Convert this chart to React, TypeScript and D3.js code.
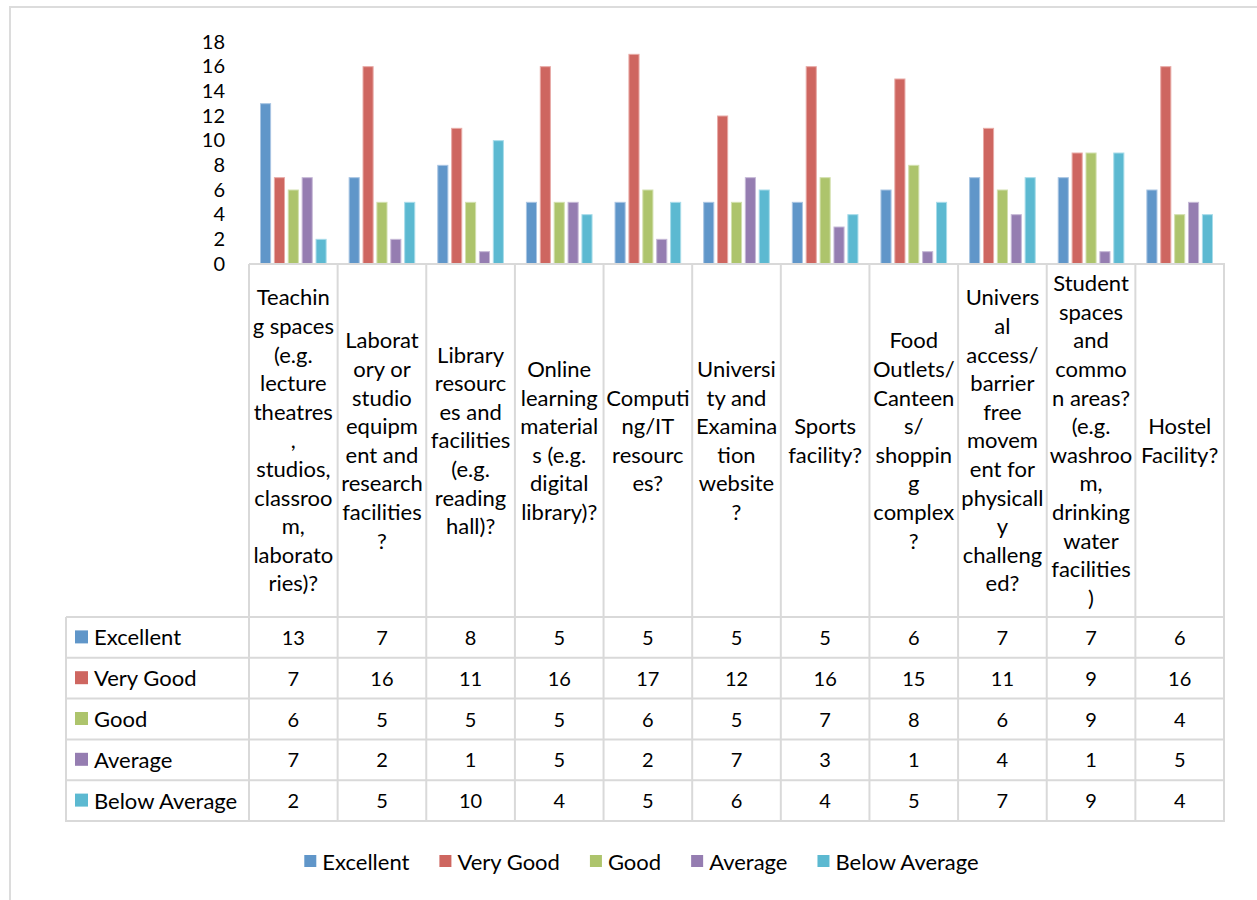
import React, { useEffect, useRef } from "react";
import * as d3 from "d3";

const categories: string[][] = [
  ["Teachin", "g spaces", "(e.g.", "lecture", "theatres", ",", "studios,", "classroo", "m,", "laborato", "ries)?"],
  ["Laborat", "ory or", "studio", "equipm", "ent and", "research", "facilities", "?"],
  ["Library", "resourc", "es and", "facilities", "(e.g.", "reading", "hall)?"],
  ["Online", "learning", "material", "s (e.g.", "digital", "library)?"],
  ["Computi", "ng/IT", "resourc", "es?"],
  ["Universi", "ty and", "Examina", "tion", "website", "?"],
  ["Sports", "facility?"],
  ["Food", "Outlets/", "Canteen", "s/", "shoppin", "g", "complex", "?"],
  ["Univers", "al", "access/", "barrier", "free", "movem", "ent for", "physicall", "y", "challeng", "ed?"],
  ["Student", "spaces", "and", "commo", "n areas?", "(e.g.", "washroo", "m,", "drinking", "water", "facilities", ")"],
  ["Hostel", "Facility?"],
];

const seriesNames = ["Excellent", "Very Good", "Good", "Average", "Below Average"];
const seriesColors = ["#6096C9", "#CE6660", "#ADC46C", "#957DB1", "#5CB9D1"];
const seriesStroke = ["#A9C5E3", "#E8AAA6", "#D2E0AE", "#C6B9D7", "#A8DCEA"];

const excellent = [13, 7, 8, 5, 5, 5, 5, 6, 7, 7, 6];
const veryGood = [7, 16, 11, 16, 17, 12, 16, 15, 11, 9, 16];
const good = [6, 5, 5, 5, 6, 5, 7, 8, 6, 9, 4];
const average = [7, 2, 1, 5, 2, 7, 3, 1, 4, 1, 5];
const belowAverage = [2, 5, 10, 4, 5, 6, 4, 5, 7, 9, 4];

const yTicks = [0, 2, 4, 6, 8, 10, 12, 14, 16, 18];

const FONT = "Lato, 'Liberation Sans', sans-serif";
const GRID = "#D9D9D9";

export default function App() {
  const ref = useRef<SVGSVGElement | null>(null);

  useEffect(() => {
    const svg = d3.select(ref.current);
    svg.selectAll("*").remove();
    const values = [excellent, veryGood, good, average, belowAverage];

    const tableLeft = 249;
    const tableRight = 1224;
    const labelLeft = 66;
    const plotTop = 41.5;
    const plotBottom = 263.5;
    const headerTop = 264;
    const headerBottom = 617;
    const rowH = 40.8;
    const tableBottom = headerBottom + rowH * 5;

    svg.append("rect").attr("x", 0).attr("y", 0).attr("width", 1257).attr("height", 900).attr("fill", "#fff");
    svg.append("rect").attr("x", 10).attr("y", 7).attr("width", 1400).attr("height", 1000)
      .attr("fill", "none").attr("stroke", "#DCDCDC").attr("stroke-width", 2);

    const catIdx = categories.map((_, i) => String(i));
    const x0 = d3.scaleBand<string>().domain(catIdx).range([tableLeft, tableRight]).paddingInner(0).paddingOuter(0);
    const cw = x0.bandwidth();
    const x1 = d3.scaleBand<string>().domain(seriesNames).range([11, cw - 11]).paddingInner(0.2).paddingOuter(0);
    const y = d3.scaleLinear().domain([0, 18]).range([plotBottom, plotTop]);

    // y tick labels
    svg.append("g").selectAll("text").data(yTicks).join("text")
      .attr("x", 225).attr("y", (d) => y(d) + 7)
      .attr("text-anchor", "end").attr("font-family", FONT).attr("font-size", 20).attr("fill", "#000")
      .text((d) => String(d));

    // bars
    const gBars = svg.append("g");
    seriesNames.forEach((s, si) => {
      gBars.append("g").selectAll("rect").data(values[si]).join("rect")
        .attr("x", (_, i) => (x0(String(i)) as number) + (x1(s) as number) + 0.5)
        .attr("y", (d) => y(d) + 0.5)
        .attr("width", x1.bandwidth() - 1)
        .attr("height", (d) => y(0) - y(d) - 0.5)
        .attr("fill", seriesColors[si])
        .attr("stroke", seriesStroke[si]).attr("stroke-width", 1);
    });

    // table lines
    const gT = svg.append("g").attr("stroke", GRID).attr("stroke-width", 2);
    gT.append("line").attr("x1", tableLeft).attr("x2", tableRight + 1).attr("y1", headerTop).attr("y2", headerTop);
    for (let r = 0; r <= 5; r++) {
      const yy = headerBottom + r * rowH;
      gT.append("line").attr("x1", labelLeft).attr("x2", tableRight + 1).attr("y1", yy).attr("y2", yy);
    }
    gT.append("line").attr("x1", labelLeft).attr("x2", labelLeft).attr("y1", headerBottom).attr("y2", tableBottom + 1);
    for (let c = 0; c <= categories.length; c++) {
      const xx = tableLeft + c * cw;
      gT.append("line").attr("x1", xx).attr("x2", xx).attr("y1", headerTop).attr("y2", tableBottom + 1);
    }

    // category labels
    const lineH = 28.6;
    const fsCat = 22;
    const midY = (headerTop + headerBottom) / 2;
    categories.forEach((lines, i) => {
      const cx = (x0(String(i)) as number) + cw / 2;
      const startY = midY - ((lines.length - 1) * lineH) / 2;
      svg.append("g").selectAll("text").data(lines).join("text")
        .attr("x", cx).attr("y", (_, li) => startY + li * lineH + fsCat * 0.36)
        .attr("text-anchor", "middle").attr("font-family", FONT).attr("font-size", fsCat).attr("fill", "#000")
        .text((d) => d);
    });

    // data rows
    seriesNames.forEach((s, si) => {
      const cy = headerBottom + si * rowH + rowH / 2;
      svg.append("rect").attr("x", 75).attr("y", cy - 7).attr("width", 13).attr("height", 13).attr("fill", seriesColors[si]);
      svg.append("text").attr("x", 94).attr("y", cy + 8)
        .attr("font-family", FONT).attr("font-size", 22).attr("fill", "#000").text(s);
      svg.append("g").selectAll("text").data(values[si]).join("text")
        .attr("x", (_, i) => (x0(String(i)) as number) + cw / 2)
        .attr("y", cy + 7.5)
        .attr("text-anchor", "middle").attr("font-family", FONT).attr("font-size", 20).attr("fill", "#000")
        .text((d) => String(d));
    });

    // bottom legend
    const legY = 862;
    const gL = svg.append("g");
    const items = seriesNames.map((s, si) => {
      const g = gL.append("g");
      g.append("rect").attr("x", 0).attr("y", legY - 7).attr("width", 12).attr("height", 12).attr("fill", seriesColors[si]);
      const t = g.append("text").attr("x", 18).attr("y", legY + 8)
        .attr("font-family", FONT).attr("font-size", 22).attr("fill", "#000").text(s);
      const w = (t.node() as SVGTextElement).getComputedTextLength();
      return { g, w: 18 + w };
    });
    const gap = 30;
    const total = items.reduce((a, b) => a + b.w, 0) + gap * (items.length - 1);
    let cursor = 641.5 - total / 2;
    items.forEach((it) => {
      it.g.attr("transform", `translate(${cursor},0)`);
      cursor += it.w + gap;
    });
  }, []);

  return (
    <svg ref={ref} width={1257} height={900} style={{ position: "absolute", left: 0, top: 0 }} />
  );
}
